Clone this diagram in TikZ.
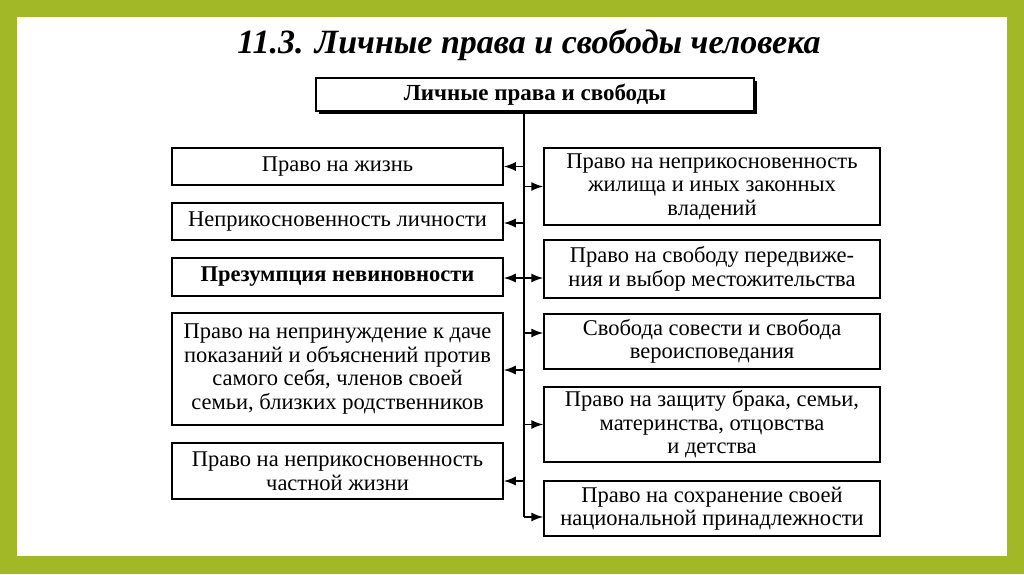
\documentclass[tikz,border=0pt]{standalone}
\usepackage{fontspec}
\setmainfont{Liberation Serif}
\usetikzlibrary{arrows.meta,shadows}
\definecolor{framegreen}{RGB}{163,184,39}

\begin{document}
\begin{tikzpicture}[x=1pt,y=-1pt,
  box/.style={draw,line width=1.5pt,fill=white,align=center,inner sep=0pt,
    font=\fontsize{22.5}{23.5}\selectfont},
  leftbox/.style={box,minimum width=331pt},
  rightbox/.style={box,minimum width=336pt},
  topbox/.style={box,minimum width=438pt,minimum height=33pt,font=\fontsize{23}{24}\selectfont\bfseries,
    general shadow={fill=black,shadow xshift=3pt,shadow yshift=-3pt}},
  trunkline/.style={line width=1.8pt},
  arr/.style={line width=1.5pt,-{Latex[length=12pt,width=9pt]}}]
  % frame
  \fill[framegreen] (0,0) rectangle (1024,574);
  \fill[white] (17,17) rectangle (1007,556);
  \node[font=\fontsize{34}{36}\selectfont\bfseries\itshape] (title) at (529,45) {11.3. Личные права и свободы человека};
  \node[topbox] (top) at (535,94.5) {Личные права и свободы};
  % left column
  \node[leftbox,minimum height=37pt] (l1) at (337.5,166.5) {Право на жизнь};
  \node[leftbox,minimum height=37pt] (l2) at (337.5,221.5) {Неприкосновенность личности};
  \node[leftbox,minimum height=38pt] (l3) at (337.5,277) {\bfseries Презумпция невиновности};
  \node[leftbox,minimum height=112pt] (l4) at (337.5,369) {Право на непринуждение к даче\\показаний и объяснений против\\самого себя, членов своей\\семьи, близких родственников};
  \node[leftbox,minimum height=56pt] (l5) at (337.5,471) {Право на неприкосновенность\\частной жизни};
  % right column
  \node[rightbox,minimum height=77pt] (r1) at (712,186.5) {Право на неприкосновенность\\жилища и иных законных\\владений};
  \node[rightbox,minimum height=58pt] (r2) at (712,269) {Право на свободу передвиже-\\ния и выбор местожительства};
  \node[rightbox,minimum height=55pt] (r3) at (712,341.5) {Свобода совести и свобода\\вероисповедания};
  \node[rightbox,minimum height=75pt] (r4) at (712,424.5) {Право на защиту брака, семьи,\\материнства, отцовства\\и детства};
  \node[rightbox,minimum height=55pt] (r5) at (712,508.5) {Право на сохранение своей\\национальной принадлежности};
  % trunk
  \coordinate (trunk) at (524,111);
  \coordinate (trunkEnd) at ([yshift=-8.5pt]r5.west -| trunk);
  \draw[trunkline] (top.south -| trunk) -- (trunkEnd);
  \draw[arr] (l1.east -| trunk) -- (l1.east);
  \draw[arr] ([yshift=-1.5pt]l2.east -| trunk) -- ([yshift=-1.5pt]l2.east);
  \draw[arr] ([yshift=-1pt]l3.east -| trunk) -- ([yshift=-1pt]l3.east);
  \draw[arr] ([yshift=-1pt]l4.east -| trunk) -- ([yshift=-1pt]l4.east);
  \draw[arr] ([yshift=-10pt]l5.east -| trunk) -- ([yshift=-10pt]l5.east);
  \draw[arr] (r1.west -| trunk) -- (r1.west);
  \draw[arr] ([yshift=-9pt]r2.west -| trunk) -- ([yshift=-9pt]r2.west);
  \draw[arr] ([yshift=8.5pt]r3.west -| trunk) -- ([yshift=8.5pt]r3.west);
  \draw[arr] (r4.west -| trunk) -- (r4.west);
  \draw[arr] (trunkEnd) -- ([yshift=-8.5pt]r5.west);
\end{tikzpicture}
\end{document}
